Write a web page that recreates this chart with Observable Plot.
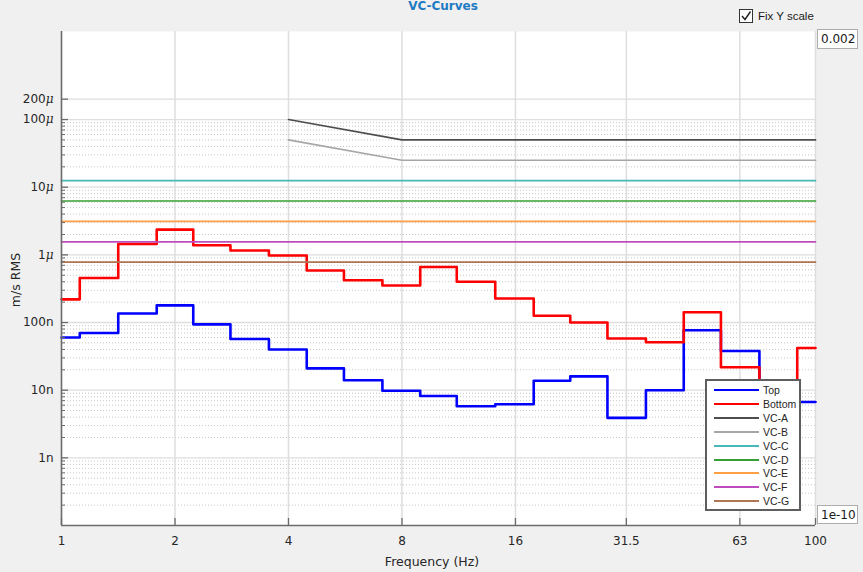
<!DOCTYPE html>
<html>
<head>
<meta charset="utf-8">
<script src="https://cdn.jsdelivr.net/npm/d3@7"></script>
<script src="https://cdn.jsdelivr.net/npm/@observablehq/plot@0.6"></script>
<style>
  body { margin: 0; background: #f0f0f0; }
  #wrap { position: relative; width: 863px; height: 572px; overflow: hidden; background: #f0f0f0;
          font-family: "DejaVu Sans", sans-serif; color: #262626; }
  #wrap svg.plot { position: absolute; left: 0; top: 0; }
  .ov { position: absolute; white-space: nowrap; }
  #title { left: 0; width: 886px; top: -1px; text-align: center; font: bold 12px "DejaVu Sans", sans-serif; color: #1f7ac4; }
  #ylabel { left: 15px; top: 280px; transform: translate(-50%, -50%) rotate(-90deg); font: 12.5px "DejaVu Sans", sans-serif; color: #262626; }
  #xlabel { left: 432px; top: 561px; transform: translate(-50%, -50%); font: 12.5px "DejaVu Sans", sans-serif; color: #262626; }
  #fix { left: 739px; top: 9px; font: 11.5px "Liberation Sans", sans-serif; color: #1a1a1a; display: flex; align-items: center; }
  #fix .box { width: 12px; height: 12px; border: 1px solid #333; background: #fff; margin-right: 5px; position: relative; }
  .field { background: #fff; border: 1px solid #adadad; font: 12px "DejaVu Sans", sans-serif; color: #1a1a1a;
           box-sizing: border-box; padding-left: 3px; line-height: 18px; }
  #legend { left: 705px; top: 379px; width: 96px; height: 132px; box-sizing: border-box; background: #fff;
            border: 2px solid #5e5e5e; }
  #legend .row { position: absolute; left: 0; height: 12px; display: flex; align-items: center;
                 font: 10.5px "Liberation Sans", sans-serif; color: #262626; }
  #legend .sw { width: 45px; height: 0; margin-left: 7px; margin-right: 4px; }
</style>
</head>
<body>
<div id="wrap"></div>
<script>
// ---- data ----
const bandCenters = [1, 1.25, 1.6, 2, 2.5, 3.15, 4, 5, 6.3, 8, 10, 12.5, 16, 20, 25, 31.5, 40, 50, 63, 80, 100];
const topValues = [60e-9, 70e-9, 136e-9, 179e-9, 94e-9, 57e-9, 40e-9, 21e-9, 14e-9, 9.8e-9, 8.2e-9,
                   5.8e-9, 6.2e-9, 13.8e-9, 16e-9, 3.9e-9, 10e-9, 77e-9, 38e-9, 5e-9, 6.7e-9];
const bottomValues = [220e-9, 456e-9, 1.45e-6, 2.36e-6, 1.39e-6, 1.16e-6, 0.98e-6, 586e-9, 422e-9, 352e-9, 663e-9,
                      401e-9, 226e-9, 126e-9, 100e-9, 58e-9, 51e-9, 142e-9, 21.8e-9, 8e-9, 42e-9];
const vcAFreq = [4, 8, 100];
const vcAValues = [100e-6, 50e-6, 50e-6];
const vcBFreq = [4, 8, 100];
const vcBValues = [50e-6, 25e-6, 25e-6];
const vcFlatFreq = [1, 100];
const vcFlatNames = ["VC-C", "VC-D", "VC-E", "VC-F", "VC-G"];
const vcFlatValues = [12.5e-6, 6.25e-6, 3.12e-6, 1.56e-6, 0.78e-6];
const seriesNames = ["Top", "Bottom", "VC-A", "VC-B", "VC-C", "VC-D", "VC-E", "VC-F", "VC-G"];
const seriesColors = ["#0000ff", "#ff0000", "#4d4d4d", "#a6a6a6", "#47b8b8", "#36a036", "#ffa047", "#bf4cbf", "#b07552"];
const xTickValues = [1, 2, 4, 8, 16, 31.5, 63, 100];
const xTickLabels = ["1", "2", "4", "8", "16", "31.5", "63", "100"];
const yTickValues = [1e-9, 1e-8, 1e-7, 1e-6, 1e-5, 1e-4, 2e-4];
const yTickLabels = ["1n", "10n", "100n", "1μ", "10μ", "100μ", "200μ"];
const yDomain = [1e-10, 2e-3];
const xDomain = [1, 100];
const minorDecades = [-10, -9, -8, -7, -6, -5];
const minorMultipliers = [2, 3, 4, 5, 6, 7, 8, 9];

// ---- tables ----
const colorOf = Object.fromEntries(seriesNames.map((n, i) => [n, seriesColors[i]]));
const bandRows = (vals) => bandCenters.map((f, i) => ({f, v: vals[i]}));
const topRows = bandRows(topValues);
const bottomRows = bandRows(bottomValues);
const vcRows = [];
vcAFreq.forEach((f, i) => vcRows.push({s: "VC-A", f, v: vcAValues[i]}));
vcBFreq.forEach((f, i) => vcRows.push({s: "VC-B", f, v: vcBValues[i]}));
vcFlatNames.forEach((s, j) => vcFlatFreq.forEach(f => vcRows.push({s, f, v: vcFlatValues[j]})));
const minorY = minorDecades.flatMap(e => minorMultipliers.map(m => +(m * Math.pow(10, e)).toPrecision(3)));
const xLabelRows = xTickValues.map((v, i) => ({v, label: xTickLabels[i]}));
const yLabelRows = yTickValues.map((v, i) => ({v, label: yTickLabels[i]}));

const chart = Plot.plot({
  width: 863, height: 572,
  marginLeft: 61, marginRight: 48, marginTop: 31, marginBottom: 47,
  style: {background: "#f0f0f0", fontFamily: "DejaVu Sans, sans-serif", fontSize: "12px", color: "#262626", overflow: "visible"},
  x: {type: "log", domain: xDomain},
  y: {type: "log", domain: yDomain},
  marks: [
    Plot.frame({fill: "white", stroke: "none"}),
    Plot.ruleY(minorY, {stroke: "#c8c8c8", strokeDasharray: "1,2"}),
    Plot.ruleY(yTickValues, {stroke: "#dedede", strokeWidth: 1.3}),
    Plot.ruleX(xTickValues.slice(1), {stroke: "#dedede", strokeWidth: 1.5}),
    Plot.line(topRows, {x: "f", y: "v", curve: "step", stroke: colorOf["Top"], strokeWidth: 2.6}),
    Plot.line(bottomRows, {x: "f", y: "v", curve: "step", stroke: colorOf["Bottom"], strokeWidth: 2.6}),
    Plot.line(vcRows, {x: "f", y: "v", z: "s", stroke: d => colorOf[d.s], strokeWidth: 1.7}),
    Plot.ruleX([xDomain[0]], {stroke: "#6b6b6b", strokeWidth: 1.6}),
    Plot.ruleY([yDomain[0]], {stroke: "#6b6b6b", strokeWidth: 1.6}),
    Plot.axisY({ticks: yTickValues, tickSize: -7, tickFormat: () => "", stroke: "#6b6b6b", strokeWidth: 1.3, label: null}),
    Plot.axisY({ticks: minorY, tickSize: -4, tickFormat: () => "", stroke: "#6b6b6b", label: null}),
    Plot.axisX({ticks: xTickValues, tickSize: -7, tickFormat: () => "", stroke: "#6b6b6b", strokeWidth: 1.3, label: null}),
    Plot.text(xLabelRows, {x: "v", text: "label", frameAnchor: "bottom", dy: 16, lineAnchor: "middle",
                           fill: "#262626", fontSize: 12}),
    Plot.text(yLabelRows, {y: "v", text: "label", frameAnchor: "left", dx: -8, textAnchor: "end",
                           fill: "#262626", fontSize: 12})
  ]
});
chart.classList.add("plot");
const wrap = document.getElementById("wrap");
wrap.appendChild(chart);

// italic μ in y tick labels
d3.select(chart).selectAll("text").each(function() {
  const t = this.textContent;
  if (t.endsWith("μ") && this.childElementCount === 0) {
    const sel = d3.select(this);
    sel.text(null);
    sel.append("tspan").text(t.slice(0, -1));
    sel.append("tspan").attr("font-style", "italic").attr("font-family", "DejaVu Serif").text("μ");
  }
});

function addDiv(id, cls, html) {
  const el = document.createElement("div");
  if (id) el.id = id;
  el.className = "ov" + (cls ? " " + cls : "");
  el.innerHTML = html;
  wrap.appendChild(el);
  return el;
}
addDiv("title", "", "VC-Curves");
addDiv("ylabel", "", "m/s RMS");
addDiv("xlabel", "", "Frequency (Hz)");
addDiv("fix", "", '<span class="box"><svg width="12" height="12" style="position:absolute;left:0;top:0"><path d="M2,6 L5,9.5 L10.5,1.5" fill="none" stroke="#222" stroke-width="1.4"/></svg></span>Fix Y scale');
const f1 = addDiv(null, "field", "0.002");
Object.assign(f1.style, {left: "817px", top: "29px", width: "41px", height: "20px"});
const f2 = addDiv(null, "field", "1e-10");
Object.assign(f2.style, {left: "817px", top: "505px", width: "41px", height: "19px"});

const legend = addDiv("legend", "", "");
seriesNames.forEach((n, i) => {
  const row = document.createElement("div");
  row.className = "row";
  row.style.top = (3 + i * 13.9) + "px";
  row.innerHTML = `<span class="sw" style="border-top:2.4px solid ${seriesColors[i]}"></span>${n}`;
  legend.appendChild(row);
});
</script>
</body>
</html>
